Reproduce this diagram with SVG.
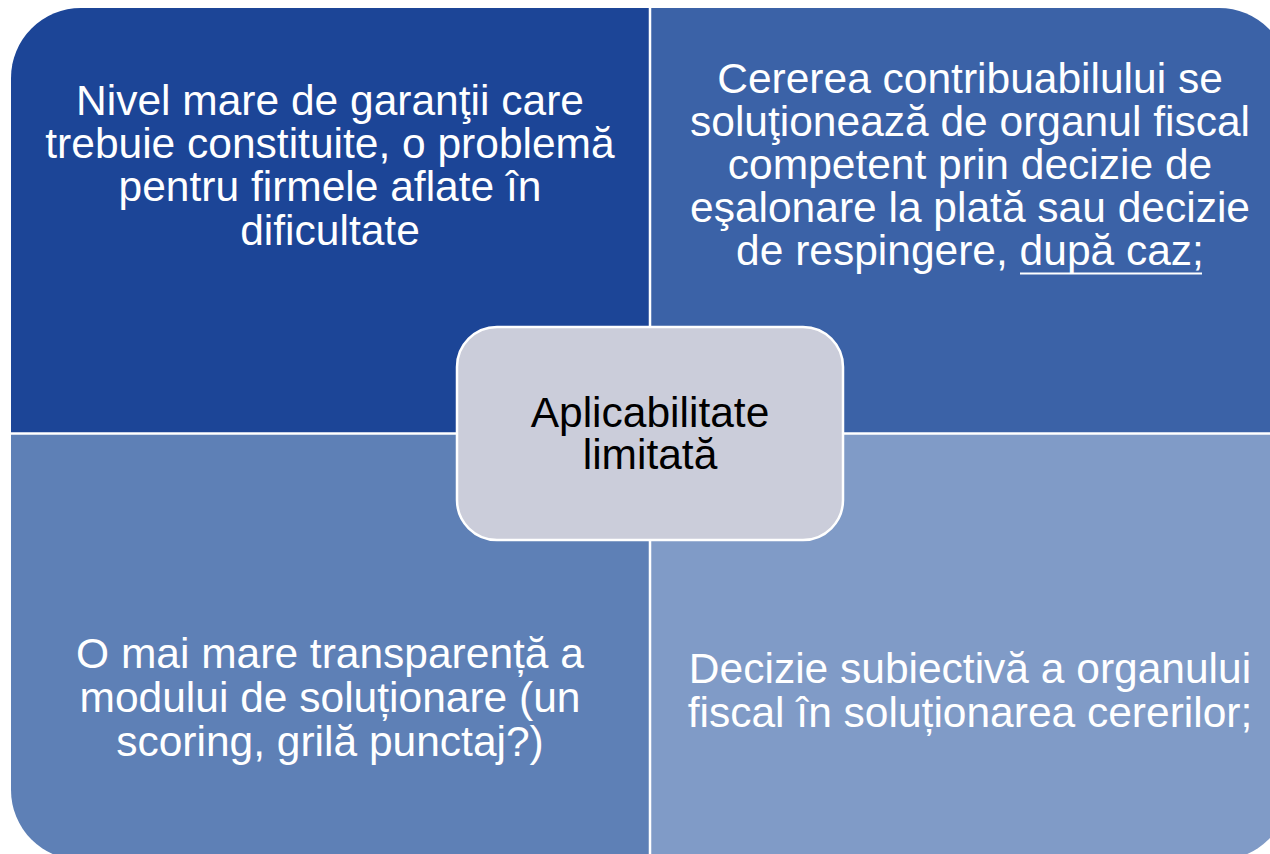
<svg xmlns="http://www.w3.org/2000/svg" width="1270" height="854" viewBox="0 0 1270 854">
<style>
.t{font-family:"Liberation Sans",Arial,sans-serif;font-size:42.5px;fill:#ffffff;text-anchor:middle}
.c{font-family:"Liberation Sans",Arial,sans-serif;font-size:42.5px;fill:#000000;text-anchor:middle}
.div{stroke:#ffffff;stroke-width:2.5}
</style>
<rect width="1270" height="854" fill="#ffffff"/>
<g id="q-top-left">
<path d="M11,78 A70,70 0 0 1 81,8 H650 V434 H11 Z" fill="#1c4597"/>
<text class="t" x="330" y="115">Nivel mare de garanţii care</text>
<text class="t" x="330" y="158">trebuie constituite, o problemă</text>
<text class="t" x="330" y="201">pentru firmele aflate în</text>
<text class="t" x="330" y="245">dificultate</text>
</g>
<g id="q-top-right">
<path d="M650,8 H1219 A70,70 0 0 1 1289,78 V434 H650 Z" fill="#3b62a7"/>
<text class="t" x="970" y="93">Cererea contribuabilului se</text>
<text class="t" x="970" y="136">soluţionează de organul fiscal</text>
<text class="t" x="970" y="179">competent prin decizie de</text>
<text class="t" x="970" y="222">eşalonare la plată sau decizie</text>
<text class="t" x="970" y="265">de respingere, după caz;</text>
<line x1="1020" y1="273.5" x2="1202" y2="273.5" stroke="#ffffff" stroke-width="2"/>
</g>
<g id="q-bottom-left">
<path d="M11,434 H650 V860 H81 A70,70 0 0 1 11,790 Z" fill="#5e80b6"/>
<text class="t" x="330" y="668">O mai mare transparență a</text>
<text class="t" x="330" y="712">modului de soluționare (un</text>
<text class="t" x="330" y="756">scoring, grilă punctaj?)</text>
</g>
<g id="q-bottom-right">
<path d="M650,434 H1289 V790 A70,70 0 0 1 1219,860 H650 Z" fill="#809bc7"/>
<text class="t" x="970" y="683">Decizie subiectivă a organului</text>
<text class="t" x="970" y="727">fiscal în soluționarea cererilor;</text>
</g>
<g id="connectors">
<line class="div" x1="650" y1="0" x2="650" y2="854"/>
<line class="div" x1="0" y1="433.5" x2="1270" y2="433.5"/>
</g>
<g id="center">
<rect x="457" y="327" width="386" height="213" rx="40" ry="40" fill="#cbcdda" stroke="#ffffff" stroke-width="2.5"/>
<text class="c" x="650" y="427">Aplicabilitate<tspan x="650" dy="42">limitată</tspan></text>
</g>
</svg>
